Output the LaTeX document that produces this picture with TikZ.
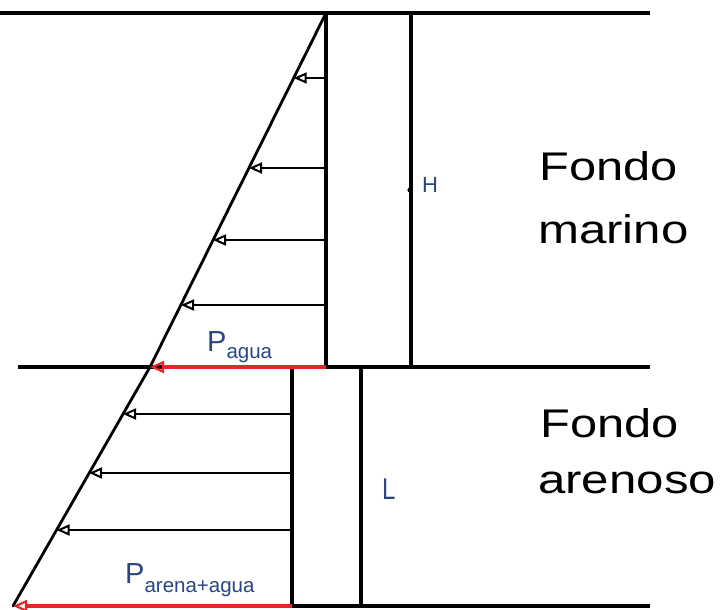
\documentclass[tikz,border=0pt]{standalone}
\usepackage{fontspec}
\setmainfont{Liberation Sans}
\usetikzlibrary{arrows.meta}
\definecolor{lblue}{RGB}{40,70,130}
\definecolor{pred}{RGB}{228,38,38}
\tikzset{
  wall/.style={line width=3.4pt, line cap=rect},
  diag/.style={line width=2.8pt, line cap=round},
  press/.style={line width=2.4pt, -{Triangle[open, length=13pt, width=11pt, line width=2pt]}},
  resul/.style={line width=3.4pt, draw=pred, -{Triangle[open, length=14pt, width=12pt, line width=2.2pt]}},
  big/.style={inner sep=0pt, anchor=base west, font=\fontsize{40}{40}\selectfont},
  small/.style={inner sep=0pt, anchor=base west, text=lblue},
}
\begin{document}
\begin{tikzpicture}[x=1pt, y=-1pt]
\useasboundingbox (0,0) rectangle (720,610);
% key points
\coordinate (ttop) at (326,13);
\coordinate (tmid) at (150,367);
\coordinate (tbot) at (13,606);
% horizontal lines
\coordinate (l1a) at (0,13);   \coordinate (l1b) at (648,13);
\coordinate (l2a) at (20,367); \coordinate (l2b) at (648,367);
\coordinate (l3a) at (292,606); \coordinate (l3b) at (648,606);
\draw[wall] (l1a) -- (l1b);
\draw[wall] (l2a) -- (l2b);
\draw[wall] (l3a) -- (l3b);
% walls
\draw[wall] (326,13) rectangle (411,367);
\draw[wall] (292,367) rectangle (361,606);
% pressure diagram outline
\draw[diag] (ttop) -- (tmid) -- (tbot);
% upper arrows
\foreach \y/\x [count=\i] in {78/293.7, 168/249, 240/213, 305/181}{
  \coordinate (ua\i) at (326,\y);
  \coordinate (ub\i) at (\x,\y);
  \draw[press] (ua\i) -- (ub\i);
}
% lower arrows
\foreach \y/\x [count=\i] in {414/123, 473/89, 530/56.6}{
  \coordinate (la\i) at (292,\y);
  \coordinate (lb\i) at (\x,\y);
  \draw[press] (la\i) -- (lb\i);
}
% resultant red arrows
\coordinate (ra) at (326,367);
\coordinate (rb) at (292,606);
\draw[resul] (ra) -- (tmid);
\draw[resul] (rb) -- (tbot);
% dot on wall
\fill (410,190) circle (2.6pt);
% labels
\node[small, font=\fontsize{22}{22}\selectfont] (H) at (422,192) {H};
\node[small, font=\fontsize{30}{30}\selectfont] (L) at (382,499) {\scalebox{0.8}[1]{L}};
\node[small] (pa) at (207,351) {\fontsize{29}{29}\selectfont P\raisebox{-7pt}{\fontsize{20.5}{20.5}\selectfont agua}};
\node[small] (pb) at (125,583) {\fontsize{29}{29}\selectfont P\raisebox{-9pt}{\fontsize{20.5}{20.5}\selectfont arena+agua}};
\node[big] (f1) at (539,180) {\scalebox{1.22}[1]{Fondo}};
\node[big] (f2) at (538,243) {\scalebox{1.23}[1]{marino}};
\node[big] (f3) at (540,437) {\scalebox{1.22}[1]{Fondo}};
\node[big] (f4) at (538,493) {\scalebox{1.23}[1]{arenoso}};
\end{tikzpicture}
\end{document}
